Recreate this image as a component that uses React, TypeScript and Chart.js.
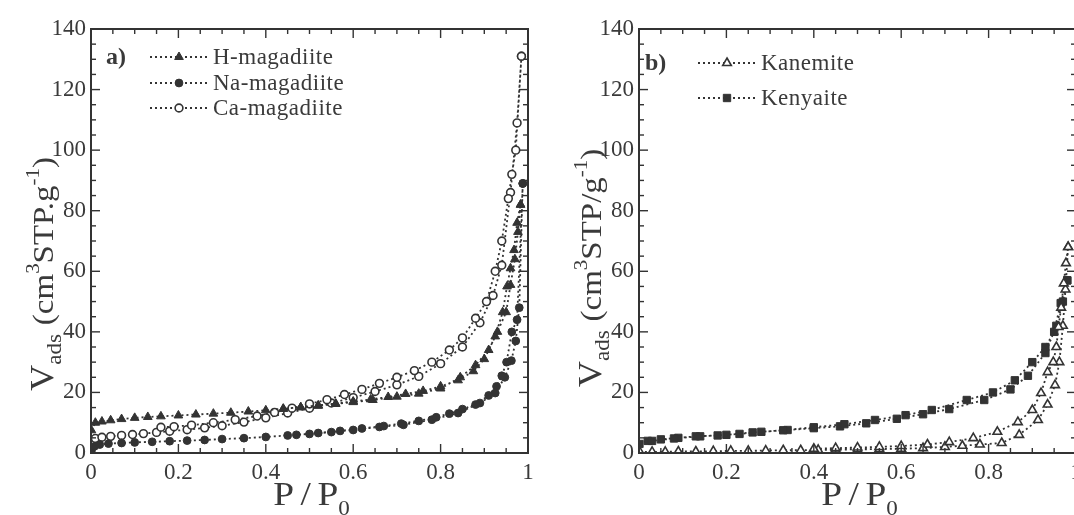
import React, { useEffect, useRef } from "react";
import { Chart, registerables } from "chart.js";

Chart.register(...registerables);

const FAMILY = "'Liberation Serif', 'DejaVu Serif', serif";
const DARK = "#333333";
const TEXT = "#3a3a3a";

// Tick labels
const xTickLabels = ["0", "0.2", "0.4", "0.6", "0.8", "1"];
const yTickLabels = ["0", "20", "40", "60", "80", "100", "120", "140"];

// ---------- Panel a) ----------
// H-magadiite (adsorption / desorption)
const hAdsP = [0.001, 0.01, 0.025, 0.045, 0.07, 0.1, 0.13, 0.16, 0.2, 0.24, 0.28, 0.32, 0.36, 0.4, 0.44, 0.48, 0.52, 0.56, 0.6, 0.645, 0.7, 0.75, 0.8, 0.845, 0.88, 0.91, 0.93, 0.95, 0.96, 0.97, 0.977, 0.983];
const hAdsV = [7.5, 10, 10.4, 10.8, 11.2, 11.6, 11.9, 12.1, 12.4, 12.7, 13, 13.3, 13.7, 14.1, 14.6, 15.1, 15.6, 16.2, 16.8, 17.5, 18.6, 19.6, 21.3, 25, 29, 34, 40, 46.5, 55.5, 64, 73, 82];
const hDesP = [0.983, 0.975, 0.968, 0.96, 0.952, 0.942, 0.925, 0.9, 0.875, 0.84, 0.8, 0.76, 0.72, 0.68, 0.64, 0.6, 0.56, 0.52, 0.48, 0.44];
const hDesV = [82, 76, 67, 61, 55, 46.5, 38.5, 31, 27, 24, 22, 20.5, 19.5, 18.5, 17.7, 17, 16.3, 15.7, 15.1, 14.6];

// Na-magadiite
const naAdsP = [0.001, 0.008, 0.02, 0.04, 0.07, 0.1, 0.14, 0.18, 0.22, 0.26, 0.3, 0.35, 0.4, 0.45, 0.5, 0.55, 0.6, 0.66, 0.715, 0.78, 0.84, 0.89, 0.925, 0.947, 0.962, 0.972, 0.98, 0.988];
const naAdsV = [0.8, 2.2, 2.8, 3.1, 3.3, 3.5, 3.7, 3.9, 4.1, 4.3, 4.6, 4.9, 5.3, 5.8, 6.3, 6.9, 7.6, 8.6, 9.3, 11, 13.2, 16.5, 19.8, 25, 30.5, 37, 48, 89];
const naDesP = [0.988, 0.975, 0.963, 0.951, 0.94, 0.928, 0.91, 0.88, 0.85, 0.82, 0.79, 0.75, 0.71, 0.67, 0.62, 0.57, 0.52, 0.47];
const naDesV = [89, 44, 40, 30, 25.5, 22, 19, 16, 14.5, 13, 11.8, 10.6, 9.7, 8.9, 8.1, 7.3, 6.6, 6];

// Ca-magadiite
const caAdsP = [0.001, 0.01, 0.025, 0.045, 0.07, 0.095, 0.12, 0.15, 0.18, 0.22, 0.26, 0.3, 0.35, 0.4, 0.45, 0.5, 0.55, 0.6, 0.65, 0.7, 0.75, 0.8, 0.85, 0.89, 0.92, 0.94, 0.96, 0.975, 0.985];
const caAdsV = [3, 4.8, 5.2, 5.5, 5.8, 6.1, 6.4, 6.8, 7.2, 7.7, 8.3, 9.0, 10.2, 11.6, 13.2, 14.8, 16.5, 18.3, 20.3, 22.5, 25.3, 29.5, 35, 43, 52, 62, 86, 109, 131];
const caDesP = [0.985, 0.972, 0.963, 0.955, 0.94, 0.925, 0.905, 0.88, 0.85, 0.82, 0.78, 0.74, 0.7, 0.66, 0.62, 0.58, 0.54, 0.5, 0.46, 0.42, 0.38, 0.33, 0.28, 0.23, 0.19, 0.16];
const caDesV = [131, 100, 92, 84, 70, 60, 50, 44.5, 38, 34, 30, 27.2, 25, 23, 21, 19.3, 17.6, 16.2, 14.8, 13.4, 12.2, 11, 10, 9.2, 8.7, 8.5];

// ---------- Panel b) ----------
// Kanemite
const kanAdsP = [0.002, 0.03, 0.06, 0.09, 0.13, 0.17, 0.21, 0.25, 0.29, 0.33, 0.37, 0.41, 0.45, 0.5, 0.55, 0.6, 0.65, 0.7, 0.74, 0.78, 0.83, 0.87, 0.913, 0.935, 0.952, 0.962, 0.97, 0.976, 0.982];
const kanAdsV = [0.3, 0.4, 0.4, 0.5, 0.5, 0.6, 0.7, 0.7, 0.8, 0.9, 0.9, 1.0, 1.1, 1.2, 1.3, 1.4, 1.6, 2.0, 2.4, 2.8, 3.3, 6, 10.9, 16, 22.4, 30, 42, 54, 68];
const kanDesP = [0.982, 0.977, 0.972, 0.966, 0.96, 0.955, 0.948, 0.935, 0.92, 0.9, 0.867, 0.82, 0.765, 0.71, 0.66, 0.6, 0.55, 0.5, 0.45, 0.4];
const kanDesV = [68, 62.7, 56, 48, 41.6, 35, 30, 26.7, 19.8, 14.2, 10.2, 7, 4.9, 3.6, 2.8, 2.3, 2.0, 1.8, 1.6, 1.4];

// Kenyaite
const kenAdsP = [0.001, 0.02, 0.05, 0.09, 0.13, 0.18, 0.23, 0.28, 0.34, 0.4, 0.46, 0.52, 0.59, 0.65, 0.71, 0.79, 0.85, 0.89, 0.93, 0.955, 0.97, 0.98];
const kenAdsV = [3, 4, 4.5, 5, 5.5, 5.8, 6.3, 7, 7.6, 8.2, 8.8, 9.8, 11.3, 12.8, 14.5, 17.5, 21, 25.5, 33, 42, 50, 57];
const kenDesP = [0.98, 0.965, 0.95, 0.93, 0.9, 0.86, 0.81, 0.75, 0.67, 0.61, 0.54, 0.47, 0.4, 0.33, 0.26, 0.2, 0.14, 0.08, 0.03];
const kenDesV = [57, 49.5, 40, 35, 30, 24, 20, 17.5, 14.2, 12.5, 10.9, 9.5, 8.5, 7.5, 6.8, 6, 5.5, 4.8, 4];

const pts = (P: number[], V: number[]) => P.map((p, i) => ({ x: p, y: V[i] }));

const R_CIRCLE = 3.9;
const R_TRI = 5;
const R_RECT = 5.2;

function series(label: string, adsP: number[], adsV: number[], desP: number[], desV: number[], style: string, filled: boolean) {
  return {
    label,
    data: [...pts(adsP, adsV), ...pts(desP, desV)],
    showLine: true,
    borderColor: DARK,
    borderWidth: 1.8,
    borderDash: [2, 3],
    pointStyle: style,
    pointRadius: style === "rect" ? R_RECT : style === "triangle" ? R_TRI : R_CIRCLE,
    pointBorderWidth: filled ? 1 : 1.6,
    pointBorderColor: DARK,
    pointBackgroundColor: filled ? DARK : "#ffffff",
    _filled: filled,
  };
}

function drawMarker(ctx: CanvasRenderingContext2D, style: string, x: number, y: number, filled: boolean) {
  ctx.save();
  ctx.setLineDash([]);
  ctx.beginPath();
  if (style === "circle") {
    ctx.arc(x, y, R_CIRCLE, 0, Math.PI * 2);
  } else if (style === "triangle") {
    for (let k = 0; k < 3; k++) {
      const a = (k * 2 * Math.PI) / 3;
      const px = x + Math.sin(a) * R_TRI;
      const py = y - Math.cos(a) * R_TRI;
      if (k === 0) ctx.moveTo(px, py);
      else ctx.lineTo(px, py);
    }
    ctx.closePath();
  } else {
    const s = R_RECT * Math.SQRT1_2;
    ctx.rect(x - s, y - s, 2 * s, 2 * s);
  }
  ctx.fillStyle = filled ? DARK : "#ffffff";
  ctx.fill();
  ctx.lineWidth = filled ? 1 : 1.6;
  ctx.strokeStyle = DARK;
  ctx.stroke();
  ctx.restore();
}

type Part = { t: string; size: number; dy?: number; gap?: number };

function drawParts(ctx: CanvasRenderingContext2D, parts: Part[], startX: number, baseY: number) {
  let x = startX;
  for (const p of parts) {
    x += p.gap || 0;
    ctx.font = `${p.size}px ${FAMILY}`;
    ctx.fillText(p.t, x, baseY + (p.dy || 0));
    x += ctx.measureText(p.t).width;
  }
}
function partsWidth(ctx: CanvasRenderingContext2D, parts: Part[]) {
  let w = 0;
  for (const p of parts) {
    ctx.font = `${p.size}px ${FAMILY}`;
    w += ctx.measureText(p.t).width + (p.gap || 0);
  }
  return w;
}

const decorPlugin = {
  id: "decor",
  afterDraw(chart: any, _args: any, opts: any) {
    const { ctx, chartArea, scales } = chart;
    const { left, right, top, bottom } = chartArea;
    const xs = scales.x;
    const ys = scales.y;
    ctx.save();
    ctx.strokeStyle = DARK;
    ctx.setLineDash([]);
    ctx.lineWidth = 1.4;
    const line = (x1: number, y1: number, x2: number, y2: number) => {
      ctx.beginPath();
      ctx.moveTo(x1, y1);
      ctx.lineTo(x2, y2);
      ctx.stroke();
    };
    // inward, mirrored ticks
    for (let i = 0; i <= 20; i++) {
      const px = xs.getPixelForValue(i * 0.05);
      const len = i % 4 === 0 ? 9 : 5;
      line(px, bottom, px, bottom - len);
      line(px, top, px, top + len);
    }
    for (let i = 0; i <= 28; i++) {
      const py = ys.getPixelForValue(i * 5);
      const len = i % 4 === 0 ? 9 : 5;
      line(left, py, left + len, py);
      line(right, py, right - len, py);
    }
    // frame
    ctx.lineWidth = 2;
    ctx.strokeRect(left, top, right - left, bottom - top);

    ctx.fillStyle = TEXT;
    ctx.textAlign = "left";
    ctx.textBaseline = "alphabetic";

    // panel label
    ctx.font = `bold 24px ${FAMILY}`;
    ctx.fillText(opts.panel, left + opts.panelDx, opts.legendY[0] + 7);

    // legend
    chart.data.datasets.forEach((ds: any, i: number) => {
      const y = opts.legendY[i];
      ctx.save();
      ctx.strokeStyle = DARK;
      ctx.lineWidth = 1.8;
      ctx.setLineDash([2, 3]);
      line(left + 59, y, left + 117, y);
      ctx.restore();
      drawMarker(ctx, ds.pointStyle, left + 88, y, ds._filled);
      ctx.save();
      ctx.fillStyle = TEXT;
      ctx.font = `23px ${FAMILY}`;
      (ctx as any).letterSpacing = "0.5px";
      ctx.fillText(ds.label, left + 122, y + 7);
      ctx.restore();
    });

    // y title (rotated, slightly widened like the original serif face)
    const yParts: Part[] = [
      { t: "V", size: 33 },
      { t: "ads", size: 21, dy: 8 },
      { t: "(cm", size: 30, gap: 8 },
      { t: "3", size: 19, dy: -14 },
      { t: opts.unit, size: 30 },
      { t: "-1", size: 19, dy: -14 },
      { t: ")", size: 30 },
    ];
    ctx.save();
    ctx.translate(left - 38, opts.yTitleCenter);
    ctx.rotate(-Math.PI / 2);
    ctx.scale(1.1, 1);
    const yw = partsWidth(ctx, yParts);
    drawParts(ctx, yParts, -yw / 2, 0);
    ctx.restore();

    // x title
    const xParts: Part[] = [
      { t: "P", size: 34 },
      { t: "/", size: 34, gap: 6 },
      { t: "P", size: 34, gap: 6 },
      { t: "0", size: 21, dy: 10 },
    ];
    ctx.save();
    const cx = (left + right) / 2 + 2;
    ctx.translate(cx, 505);
    ctx.scale(1.1, 1);
    const xw = partsWidth(ctx, xParts);
    drawParts(ctx, xParts, -xw / 2, 0);
    ctx.restore();

    ctx.restore();
  },
};

function makeConfig(datasets: any[], decor: any) {
  return {
    type: "scatter",
    data: { datasets },
    options: {
      responsive: false,
      maintainAspectRatio: false,
      animation: false,
      events: [],
      layout: { padding: { top: 29, right: 17, left: 0, bottom: 0 } },
      plugins: {
        legend: { display: false },
        tooltip: { enabled: false },
        decor,
      },
      scales: {
        x: {
          type: "linear",
          min: 0,
          max: 1,
          afterFit: (s: any) => {
            s.height = 62;
          },
          grid: { display: false, drawTicks: false },
          border: { display: false },
          ticks: {
            stepSize: 0.2,
            padding: 6,
            color: TEXT,
            font: { size: 23, family: FAMILY },
            maxRotation: 0,
            autoSkip: false,
            callback: (_v: any, i: number) => xTickLabels[i],
          },
        },
        y: {
          type: "linear",
          min: 0,
          max: 140,
          afterFit: (s: any) => {
            s.width = 91;
          },
          grid: { display: false, drawTicks: false },
          border: { display: false },
          ticks: {
            stepSize: 20,
            padding: 5,
            color: TEXT,
            font: { size: 23, family: FAMILY },
            autoSkip: false,
            callback: (_v: any, i: number) => yTickLabels[i],
          },
        },
      },
    },
    plugins: [decorPlugin],
  };
}

function Panel({ datasets, decor, leftPos }: { datasets: any[]; decor: any; leftPos: number }) {
  const ref = useRef<HTMLCanvasElement>(null);
  useEffect(() => {
    if (!ref.current) return;
    const chart = new Chart(ref.current, makeConfig(datasets, decor) as any);
    return () => chart.destroy();
  }, []);
  return (
    <canvas
      ref={ref}
      width={545}
      height={515}
      style={{ position: "absolute", left: leftPos, top: 0, width: 545, height: 515 }}
    />
  );
}

export default function App() {
  const leftSets = [
    series("H-magadiite", hAdsP, hAdsV, hDesP, hDesV, "triangle", true),
    series("Na-magadiite", naAdsP, naAdsV, naDesP, naDesV, "circle", true),
    series("Ca-magadiite", caAdsP, caAdsV, caDesP, caDesV, "circle", false),
  ];
  const rightSets = [
    series("Kanemite", kanAdsP, kanAdsV, kanDesP, kanDesV, "triangle", false),
    series("Kenyaite", kenAdsP, kenAdsV, kenDesP, kenDesV, "rect", true),
  ];
  return (
    <div
      style={{
        position: "absolute",
        left: 0,
        top: 0,
        width: 1074,
        height: 515,
        overflow: "hidden",
        background: "#ffffff",
      }}
    >
      <Panel
        datasets={leftSets}
        decor={{ panel: "a)", panelDx: 15, legendY: [57, 83, 108], unit: "STP.g", yTitleCenter: 274 }}
        leftPos={0}
      />
      <Panel
        datasets={rightSets}
        decor={{ panel: "b)", panelDx: 6, legendY: [63, 98], unit: "STP/g", yTitleCenter: 268 }}
        leftPos={548}
      />
    </div>
  );
}
